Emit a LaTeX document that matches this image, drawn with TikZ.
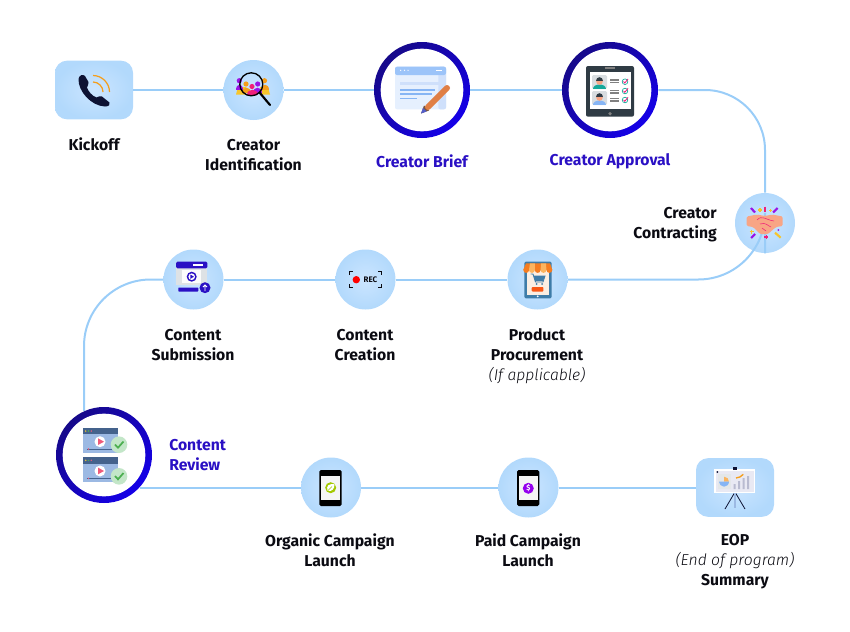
\documentclass[tikz,border=0pt]{standalone}
\usepackage{fontspec}
\setmainfont{Fira Sans}[ItalicFont={Fira Sans Light Italic}]
\definecolor{linkblue}{HTML}{9ACDF8}
\definecolor{softin}{HTML}{CBE5FF}
\definecolor{softout}{HTML}{B2D9FC}
\definecolor{ringdark}{HTML}{16098A}
\definecolor{ringbright}{HTML}{1500E8}
\definecolor{titleblue}{HTML}{2A10C4}
\definecolor{inkblack}{HTML}{0B0B12}
\definecolor{navy}{HTML}{0D1233}
\definecolor{signal}{HTML}{F59E1B}
\definecolor{docpale}{HTML}{E6F0FE}
\definecolor{docmid}{HTML}{CFE0FB}
\definecolor{docbar}{HTML}{9CC4F9}
\definecolor{docline}{HTML}{86B5F4}
\definecolor{pencil}{HTML}{E07F45}
\definecolor{slate}{HTML}{2F3B44}
\definecolor{photo}{HTML}{D8DDE0}
\definecolor{skin}{HTML}{F8A585}
\definecolor{teal}{HTML}{14A89A}
\definecolor{sparkviolet}{HTML}{9A12E6}
\definecolor{sparkyellow}{HTML}{F7C52B}
\definecolor{sparkpink}{HTML}{F0207A}
\definecolor{shopblue}{HTML}{3E7CA8}
\definecolor{cream}{HTML}{FBEEE2}
\definecolor{awning}{HTML}{F57C1F}
\definecolor{awnlight}{HTML}{FBB45F}
\definecolor{winbody}{HTML}{9CB9E3}
\definecolor{winhead}{HTML}{44628C}
\definecolor{playpink}{HTML}{EF5A7A}
\definecolor{okpale}{HTML}{C3E6C8}
\definecolor{okgreen}{HTML}{4CAF50}
\definecolor{leaf}{HTML}{A4C900}
\definecolor{payviolet}{HTML}{9500EE}
\definecolor{board}{HTML}{E9E9F3}
\definecolor{bargrey}{HTML}{B9BBD0}
\tikzset{
  softcircle/.style={circle,minimum size=45pt,inner sep=0pt,inner color=softin,outer color=softout},
  softbox/.style={rectangle,rounded corners=9pt,minimum width=58.5pt,minimum height=44pt,inner sep=0pt,inner color=softin,outer color=softout},
  ringcircle/.style={circle,minimum size=72pt,inner sep=0pt,top color=ringdark,bottom color=ringbright,shading angle=45,
    path picture={\fill[white] (path picture bounding box.center) circle (31pt);}},
  link/.style={draw=linkblue,line width=1.5pt},
  caption/.style={align=center,inner sep=0pt,text=inkblack,font=\fontsize{11.8}{15}\selectfont\bfseries},
  captionblue/.style={caption,text=titleblue},
}
\begin{document}
\begin{tikzpicture}[x=0.75pt,y=-0.75pt]
\useasboundingbox (0,0) rectangle (850,632);

%first row
\node[softbox] (kickoff) at (94,90) {};
\node[softcircle] (creatorid) at (253.5,90) {};
\node[ringcircle] (brief) at (422,90) {};
\node[ringcircle] (approval) at (610,90) {};
\node[softcircle] (contracting) at (765,223) {};

%second row
\node[softcircle] (procurement) at (537.5,279.5) {};
\node[softcircle] (creation) at (365.5,279.5) {};
\node[softcircle] (submission) at (193.5,279.5) {};

%third row
\node[ringcircle] (review) at (104,455) {};
\node[softcircle] (organic) at (331,487.5) {};
\node[softcircle] (paid) at (528.5,487.5) {};
\node[softbox] (eop) at (735,487.5) {};

\coordinate (bendleft) at (84,279.5);

\draw[link] (kickoff) -- (creatorid);
\draw[link] (creatorid) -- (brief);
\draw[link] (brief) -- (approval);
\draw[link,rounded corners=45pt] (approval) -- (approval -| contracting) -- (contracting);
\draw[link,rounded corners=50pt] (contracting) -- (contracting |- procurement) -- (procurement);
\draw[link] (procurement) -- (creation);
\draw[link] (creation) -- (submission);
\draw[link,rounded corners=50pt] (submission) -- (bendleft) -- (bendleft |- review.114.6);
\draw[link] (review.-41.8 |- organic) -- (organic);
\draw[link] (organic) -- (paid);
\draw[link] (paid) -- (eop);

%captions
\node[caption] (kickofftxt) at (94,144) {Kickoff};
\node[caption] (creatoridtxt) at (253.5,155) {Creator\\Identification};
\node[captionblue] (brieftxt) at (422,161) {Creator Brief};
\node[captionblue] (approvaltxt) at (610,161.5) {Creator Approval};
\node[caption,align=right,anchor=east] (contractingtxt) at (717,225) {Creator\\Contracting};
\node[caption] (submissiontxt) at (193,345) {Content\\Submission};
\node[caption] (creationtxt) at (365,345) {Content\\Creation};
\node[caption] (procurementtxt) at (537,356.5) {Product\\Procurement\\{\mdseries\itshape (If applicable)}};
\node[captionblue,align=left,anchor=west] (reviewtxt) at (169,455.5) {Content\\Review};
\node[caption] (organictxt) at (330,550) {Organic Campaign\\Launch};
\node[caption] (paidtxt) at (528,550) {Paid Campaign\\Launch};
\node[caption] (eoptxt) at (735,562) {EOP\\{\mdseries\itshape (End of program)}\\Summary};

%kickoff icon
\fill[navy] (78.5,79) .. controls (78,91) and (91,106) .. (105,106.5) .. controls (109,106.5) and (110.5,104.5) .. (109.5,102.5) -- (102,96.5) .. controls (100,95.5) and (98,97) .. (96.5,97.5) .. controls (92,96) and (88,91) .. (87,87.5) .. controls (87.5,85.5) and (89,84) .. (88.5,82) -- (85,76) .. controls (83,74) and (79,75) .. (78.5,79) -- cycle;
\draw[signal,line width=0.9pt] (93,75.5) .. controls (102,75.5) and (109.5,83) .. (109.5,92);
\draw[signal,line width=0.9pt] (93,82) .. controls (98.5,82) and (103,86.5) .. (103,92);

%creator identification icon
\fill[sparkyellow] (236,94.5) -- (238,87) -- (246,87) -- (246,94.5) -- cycle;
\fill[sparkyellow] (270,94.5) -- (268,87) -- (260,87) -- (260,94.5) -- cycle;
\fill[sparkviolet] (239.3,80.7) circle (2.6);
\fill[sparkviolet] (235.5,90) .. controls (235.5,83) and (243,83) .. (243,90) -- cycle;
\fill[signal] (264.5,80.7) circle (2.6);
\fill[signal] (261,90) .. controls (261,83) and (268.5,83) .. (268.5,90) -- cycle;
\fill[signal] (246,84) circle (2.6);
\fill[signal] (241.5,93) .. controls (241.5,86) and (250.5,86) .. (250.5,93) -- cycle;
\fill[sparkviolet] (257.7,84) circle (2.6);
\fill[sparkviolet] (253,93) .. controls (253,86) and (262,86) .. (262,93) -- cycle;
\fill[sparkpink] (252,86.5) circle (2.6);
\fill[sparkpink] (246.5,95) .. controls (246.5,88) and (257.5,88) .. (257.5,95) -- cycle;
\draw[black,line width=1pt] (251.3,84.3) circle (11.5);
\draw[black,line width=1.6pt,line cap=round] (259.5,92.5) -- (270,105);

%creator brief icon
\fill[docpale,rounded corners=1.5pt] (395,66.7) rectangle (446,109.3);
\fill[docmid,rounded corners=1.5pt] (438.3,66.7) rectangle (446,109.3);
\fill[docbar,rounded corners=1.5pt] (395,66.7) rectangle (446,75);
\fill[white] (400.7,70.3) circle (0.7) (404.5,70.3) circle (0.7) (408,70.3) circle (0.7);
\fill[white] (436,69.8) rectangle (441.7,71.2);
\fill[docmid] (400,81.7) rectangle (440,85);
\draw[docline,line width=0.8pt] (400,90) -- (435,90) (400,94) -- (431.7,94) (400,98.3) -- (416.7,98.3);
\fill[slate!60!pencil] (421,113.5) -- (424,105.5) -- (429,110.5) -- cycle;
\fill[docline!40!blue!60!gray] (421,113.5) -- (423,108) -- (426.5,111.5) -- cycle;
\draw[pencil,line width=4.5pt,line cap=round] (447,88) -- (428,107);

%creator approval icon
\fill[slate,rounded corners=1.5pt] (586,66) rectangle (634,116.7);
\fill[white] (590,71.7) rectangle (630.7,109.3);
\draw[gray,line width=0.8pt] (605.3,68) -- (614.7,68);
\fill[gray] (610,113.7) circle (1.8);
\fill[photo,rounded corners=1pt] (592,75) rectangle (607,89);
\fill[photo,rounded corners=1pt] (592,91) rectangle (607,105);
\fill[teal] (593,89) .. controls (593,83) and (606,83) .. (606,89) -- cycle;
\fill[docline] (593,105) .. controls (593,99) and (606,99) .. (606,105) -- cycle;
\fill[skin] (599.5,81.5) circle (3.3) (599.5,97.5) circle (3.3);
\fill[slate] (596,80.5) .. controls (596,76) and (603,76) .. (603,80.5) -- cycle;
\fill[slate] (596,96.5) .. controls (596,92) and (603,92) .. (603,96.5) -- cycle;
\draw[gray,line width=0.8pt] (610,80) -- (619.3,80) (610,82.7) -- (619.3,82.7) (610,90.7) -- (619.3,90.7) (610,93) -- (619.3,93) (610,98.5) -- (619.3,98.5) (610,101) -- (619.3,101);
\draw[teal,line width=0.5pt] (625,81.7) circle (2.8) (625,91) circle (2.8) (625,100) circle (2.8);
\draw[sparkpink,line width=0.6pt] (623.5,81.5) -- (624.8,83) -- (628,79) (623.5,90.8) -- (624.8,92.3) -- (628,88.3) (623.5,99.8) -- (624.8,101.3) -- (628,97.3);

%creator contracting icon
\fill[skin,rounded corners=1pt] (746.7,216.5) -- (757,214.5) -- (765,216) -- (772,214.5) -- (782.7,216.5) -- (782.7,226) -- (776,227) -- (768,234) -- (760,234) -- (753,227) -- (746.7,226) -- cycle;
\draw[sparkpink,line width=0.4pt] (757,220) .. controls (762,214.5) and (766,220) .. (774,221) (760,224) .. controls (766,222) and (768,226) .. (771,227) (762,228) -- (766,231);
\draw[sparkviolet,line width=1.6pt] (751,208) -- (755,212.5) (777.5,208) -- (773,212.5) (751,238) -- (755,234);
\draw[sparkyellow,line width=1.6pt] (775,232.7) -- (780.7,237.7);
\draw[sparkpink,line width=1.1pt] (765,206.5) -- (765,212);
\draw[sparkpink,line width=0.8pt] (766.3,235) -- (766.3,239) (764.3,237) -- (768.3,237);
\draw[sparkyellow,line width=0.8pt] (760,208) -- (760,212) (758,210) -- (762,210) (770.5,209) -- (770.5,212) (769,210.5) -- (772,210.5) (751.5,229.5) -- (751.5,233.5) (749.5,231.5) -- (753.5,231.5);
\fill[sparkviolet] (778.3,230) circle (1);

%content submission icon
\fill[photo!85!white] (176,261.7) rectangle (207.3,285);
\fill[white!90!photo] (181.7,270) rectangle (201,283.3);
\fill[titleblue,rounded corners=1pt] (176,261.7) rectangle (207.3,268.3);
\draw[white,line width=0.8pt] (193.3,265) -- (203.3,265);
\fill[titleblue] (191.7,276.7) circle (5);
\fill[white] (191.7,276.7) circle (3.3);
\fill[titleblue] (190.3,274.5) -- (190.3,278.9) -- (194,276.7) -- cycle;
\fill[titleblue,rounded corners=0.5pt] (178.3,287.5) rectangle (198.3,291.5);
\fill[titleblue] (205,287.7) circle (5.5);
\draw[white,line width=0.7pt] (205,291) -- (205,285) (203,287) -- (205,285) -- (207,287);

%content creation icon
\draw[inkblack,line width=0.5pt] (349.3,275) -- (349.3,271.7) -- (353,271.7) (378,271.7) -- (381.7,271.7) -- (381.7,275) (349.3,284) -- (349.3,287.3) -- (353,287.3) (378,287.3) -- (381.7,287.3) -- (381.7,284);
\fill[red] (356.3,279.7) circle (3.7);
\node[inner sep=0pt,text=inkblack,font=\fontsize{6}{6}\selectfont\bfseries] (rectxt) at (370.5,279.7) {REC};

%product procurement icon
\fill[shopblue,rounded corners=1pt] (524.3,261.7) rectangle (551.7,298.3);
\fill[cream] (526.7,270) rectangle (549,294.5);
\fill[awning] (523.3,270) -- (526,263.3) -- (550,263.3) -- (552.3,270) -- cycle;
\fill[awnlight] (530,263.3) -- (529,270) -- (534.8,270) -- (535,263.3) -- cycle;
\fill[awnlight] (541,263.3) -- (540.6,270) -- (546.4,270) -- (546,263.3) -- cycle;
\fill[awning] (526.2,270) circle (2.9) (537.7,270) circle (2.9) (549.4,270) circle (2.9);
\fill[awnlight] (531.9,270) circle (2.9) (543.5,270) circle (2.9);
\draw[shopblue,line width=0.7pt] (530.5,274) -- (533,274) -- (535.5,282) -- (543,282) -- (545,276) -- (533.8,276);
\fill[shopblue] (533.8,276) -- (545,276) -- (543,281) -- (535.2,281) -- cycle;
\fill[shopblue] (536.5,284) circle (1) (542,284) circle (1);
\fill[awning!70!red,rounded corners=0.6pt] (531.7,287) rectangle (543.3,291.5);
\fill[white] (537.7,296.3) circle (1);

%content review icon
\fill[winbody] (83.3,427.7) rectangle (117.7,452.7);
\fill[winhead] (83.3,427.7) rectangle (117.7,434.3);
\fill[sparkyellow] (85.7,431) circle (0.8);
\fill[okgreen] (88.5,431) circle (0.8);
\fill[playpink] (91.3,431) circle (0.8);
\fill[white] (100,441.7) circle (5.5);
\fill[playpink] (98,438.3) -- (98,445) -- (104,441.7) -- cycle;
\draw[winhead,line width=0.5pt] (86.7,449) -- (111.7,449);
\fill[playpink] (88.5,449) circle (0.8);
\fill[okpale] (119,444.7) circle (8.3);
\draw[okgreen,line width=1.3pt] (115,444.5) -- (118,447.7) -- (123.5,441.5);
\fill[winbody] (83.3,457) rectangle (117.7,481.7);
\fill[winhead] (83.3,457) rectangle (117.7,463.5);
\fill[sparkyellow] (85.7,460.3) circle (0.8);
\fill[okgreen] (88.5,460.3) circle (0.8);
\fill[playpink] (91.3,460.3) circle (0.8);
\fill[white] (100,471) circle (5.5);
\fill[playpink] (98,467.6) -- (98,474.3) -- (104,471) -- cycle;
\draw[winhead,line width=0.5pt] (86.7,478.3) -- (111.7,478.3);
\fill[playpink] (88.5,478.3) circle (0.8);
\fill[okpale] (119,476.3) circle (8.3);
\draw[okgreen,line width=1.3pt] (115,476) -- (118,479.3) -- (123.5,473);

%organic campaign icon
\fill[black,rounded corners=1.2pt] (319.3,470) rectangle (341.7,506);
\fill[white!96!black] (321,476) rectangle (340,500);
\fill[leaf] (330.7,487.7) circle (5.5);
\fill[white] (327.5,491) .. controls (326,485) and (329,484) .. (334.5,484) .. controls (334.5,489.5) and (332,491.5) .. (327.5,491) -- cycle;
\draw[leaf,line width=0.3pt] (327,491.5) -- (332,486.5);

%paid campaign icon
\fill[black,rounded corners=1.2pt] (517,470) rectangle (539.3,506);
\fill[white!96!black] (519,476) rectangle (537.5,500);
\fill[payviolet] (528.3,488.3) circle (5.5);
\node[inner sep=0pt,text=white,font=\fontsize{5.5}{6}\selectfont\bfseries] (dollartxt) at (528.3,488.3) {\$};

%eop icon
\draw[navy,line width=0.6pt] (735,492) -- (725,509) (735,492) -- (745,509);
\draw[winbody,line width=1pt] (735,492) -- (735,508);
\fill[white] (714.3,469) rectangle (755,493.3);
\fill[board] (716,471) rectangle (753.5,491.5);
\fill[photo!70!white] (718,474) rectangle (731,489);
\fill[awnlight] (724,481.7) -- (724,476.7) .. controls (727,476.7) and (729,479) .. (729,481.7) -- cycle;
\fill[docline] (724,481.7) -- (729,481.7) .. controls (729,485) and (726,486.7) .. (724,486.7) .. controls (721,486.7) and (719,484) .. (719,481.7) -- cycle;
\fill[bargrey] (733.5,484) rectangle (735.5,489) (738,481) rectangle (740,489) (742.5,478) rectangle (744.5,489) (747,476) rectangle (749,489);
\draw[signal,line width=1pt] (736,478) .. controls (739,478) and (741,476.5) .. (743.3,474.3);
\fill[navy] (733,467) rectangle (737,469.5);
\fill[navy] (717.3,472) circle (1);
\end{tikzpicture}
\end{document}
